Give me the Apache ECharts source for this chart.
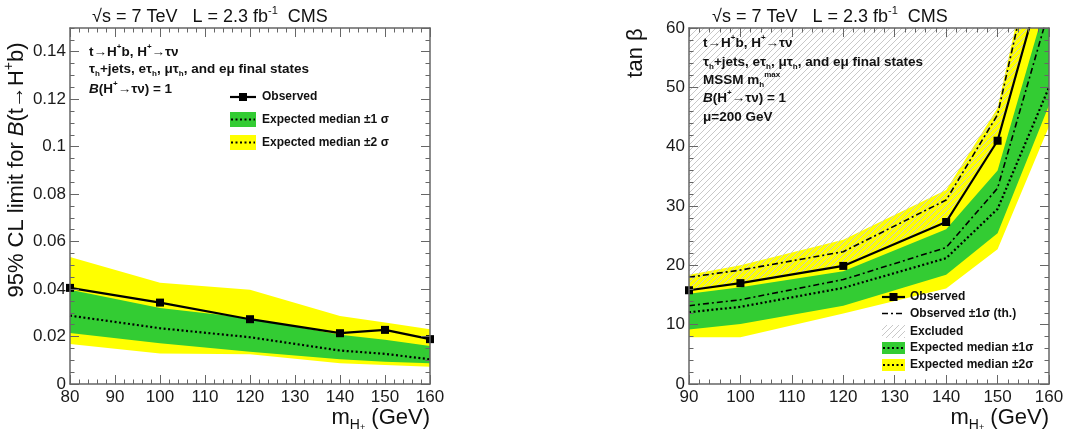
<!DOCTYPE html>
<html><head><meta charset="utf-8">
<script src="https://cdn.jsdelivr.net/npm/echarts@6/dist/echarts.min.js"></script>
<style>html,body{margin:0;padding:0;background:#fff}#c{width:1074px;height:438px}</style>
</head><body><div id="c"></div>
<script>
// ---------- Left panel data: 95% CL limit on B(t->H+b) ----------
const massL = [80, 100, 120, 140, 150, 160];
const obsL = [0.0405, 0.0343, 0.0273, 0.0214, 0.0228, 0.0189];
const expL = [0.0288, 0.0235, 0.0197, 0.0141, 0.0127, 0.0104];
const g1LoL = [0.0215, 0.0172, 0.0136, 0.0104, 0.0094, 0.0087];
const g1HiL = [0.0397, 0.0320, 0.0277, 0.0207, 0.0186, 0.0160];
const y2LoL = [0.0169, 0.0129, 0.0125, 0.0087, 0.0080, 0.0073];
const y2HiL = [0.0535, 0.0427, 0.0397, 0.0287, 0.0259, 0.0231];

// ---------- Right panel data: tan beta limit ----------
const massR = [90, 100, 120, 140, 150, 160];
const obsR = [15.8, 17.0, 19.9, 27.3, 41.0, 72];
const thUpR = [18.0, 19.2, 22.3, 31.0, 45.4, 84];
const thDnR = [13.2, 14.2, 17.6, 23.0, 33.0, 63];
const expR = [12.1, 13.0, 16.2, 21.2, 29.5, 50];
const g1LoR = [9.2, 10.1, 13.2, 18.4, 25.4, 47];
const g1HiR = [15.2, 16.3, 19.0, 26.1, 36.0, 66];
const y2LoR = [7.9, 7.9, 11.9, 16.1, 22.7, 43.4];
const y2HiR = [18.4, 20.0, 24.3, 32.7, 46.5, 86];
const exclTopR = [200, 200, 200, 200, 200, 200];

// tick settings
const xTicksL = {min: 80, max: 160, interval: 10};
const yTicksL = {min: 0, max: 0.15, interval: 0.02, minor: 0.005};
const xTicksR = {min: 90, max: 160, interval: 10};
const yTicksR = {min: 0, max: 60, interval: 10};

const FF = '"Liberation Sans", Arial, Helvetica, sans-serif';
const GREEN = '#33cc33', YELLOW = '#ffff00', AX = '#666';

// hatch pattern
const pc = document.createElement('canvas');
pc.width = 6; pc.height = 6;
(function(){
  const c = pc.getContext('2d');
  c.strokeStyle = '#c8c8c8'; c.lineWidth = 1.0;
  c.beginPath();
  c.moveTo(0, 6); c.lineTo(6, 0);
  c.moveTo(-1, 1); c.lineTo(1, -1);
  c.moveTo(5, 7); c.lineTo(7, 5);
  c.stroke();
})();
const HATCH = {image: pc, repeat: 'repeat'};

function pairs(xs, ys) { return xs.map((x, i) => [x, ys[i]]); }

// filled region between lo and hi, drawn through the axes' scales
function band(xs, lo, hi, fill, xi, yi, z) {
  return {type: 'custom', xAxisIndex: xi, yAxisIndex: yi, data: [[xs[0], lo[0]]], silent: true, z: z || 2,
    renderItem: function (params, api) {
      const pts = [];
      for (let i = 0; i < xs.length; i++) pts.push(api.coord([xs[i], hi[i]]));
      for (let i = xs.length - 1; i >= 0; i--) pts.push(api.coord([xs[i], lo[i]]));
      const cs = params.coordSys;
      return {type: 'polygon', shape: {points: pts}, style: {fill: fill, stroke: null},
        clipPath: {type: 'rect', shape: {x: cs.x, y: cs.y, width: cs.width, height: cs.height}}};
    }};
}
function line(xs, ys, xi, yi, style, marker) {
  return {type: 'line', xAxisIndex: xi, yAxisIndex: yi, data: pairs(xs, ys),
    symbol: marker ? 'rect' : 'none', symbolSize: 8, showAllSymbol: true,
    itemStyle: {color: '#000'}, lineStyle: Object.assign({color: '#000'}, style), silent: true, z: 4};
}

function xAx(grid, t, pos, labels) {
  return {type: 'value', gridIndex: grid, position: pos, min: t.min, max: t.max, interval: t.interval, z: 10,
    axisLine: {show: true, onZero: false, lineStyle: {color: AX, width: 1.5}},
    axisTick: {show: true, inside: true, length: 9, lineStyle: {color: AX, width: 1}},
    minorTick: {show: true, splitNumber: 5, length: 4.5, lineStyle: {color: AX, width: 1}},
    splitLine: {show: false}, minorSplitLine: {show: false},
    axisLabel: {show: labels, fontFamily: FF, fontSize: 17, color: '#1a1a1a', margin: 5}};
}
function yAx(grid, t, pos, labels, minorSplit) {
  return {type: 'value', gridIndex: grid, position: pos, min: t.min, max: t.max, interval: t.interval, z: 10,
    axisLine: {show: true, onZero: false, lineStyle: {color: AX, width: 1.5}},
    axisTick: {show: true, inside: true, length: 9, lineStyle: {color: AX, width: 1}},
    minorTick: {show: !!minorSplit, splitNumber: minorSplit || 5, length: 4.5, lineStyle: {color: AX, width: 1}},
    splitLine: {show: false}, minorSplitLine: {show: false},
    axisLabel: {show: labels, fontFamily: FF, fontSize: 17, color: '#1a1a1a', margin: 4, showMaxLabel: t.max % t.interval === 0}};
}
function yMinor(grid, t, pos) {
  return {type: 'value', gridIndex: grid, position: pos, min: t.min, max: t.max, interval: t.minor, z: 10,
    axisLine: {show: false}, axisLabel: {show: false}, splitLine: {show: false},
    axisTick: {show: true, inside: true, length: 4.5, lineStyle: {color: AX, width: 1}}};
}

function rich(fs, fw) {
  const base = {fontFamily: FF, fontWeight: fw, fill: '#111'};
  return {
    sup: Object.assign({}, base, {fontSize: Math.round(fs * 0.62), verticalAlign: 'top', lineHeight: Math.round(fs * 0.75)}),
    sub: Object.assign({}, base, {fontSize: Math.round(fs * 0.62), verticalAlign: 'bottom', lineHeight: Math.round(fs * 0.75)}),
    hs: Object.assign({}, base, {fontSize: Math.round(fs * 0.42), verticalAlign: 'bottom', lineHeight: Math.round(fs * 1.05)}),
    i: Object.assign({}, base, {fontSize: fs, fontStyle: 'italic', lineHeight: Math.round(fs * 1.3)})
  };
}
function T(x, y, text, fs, fw, align, rot) {
  return {type: 'text', x, y, z: 100, silent: true, rotation: rot || 0, style: {
    text, fontFamily: FF, fontSize: fs, fontWeight: fw, fill: '#111', lineHeight: Math.round(fs * 1.3),
    align: align || 'left', verticalAlign: 'middle', rich: rich(fs, fw)}};
}
function L(x1, y1, x2, y2, w, dash) {
  return {type: 'line', z: 100, silent: true, shape: {x1, y1, x2, y2}, style: {stroke: '#000', lineWidth: w, lineDash: dash || null}};
}
function R(x, y, w, h, fill) {
  return {type: 'rect', z: 99, silent: true, shape: {x, y, width: w, height: h}, style: {fill}};
}
const DOT = [2, 2.5], DASHDOT = [6, 3, 2, 3];

const series = [
  band(massL, y2LoL, y2HiL, YELLOW, 0, 0, 1),
  band(massL, g1LoL, g1HiL, GREEN, 0, 0, 2),
  line(massL, expL, 0, 0, {width: 2.2, type: DOT}, false),
  line(massL, obsL, 0, 0, {width: 2.2}, true),
  band(massR, y2LoR, y2HiR, YELLOW, 2, 4, 1),
  band(massR, g1LoR, g1HiR, GREEN, 2, 4, 2),
  band(massR, obsR, exclTopR, HATCH, 2, 4, 3),
  line(massR, thUpR, 2, 4, {width: 1.6, type: DASHDOT}, false),
  line(massR, thDnR, 2, 4, {width: 1.6, type: DASHDOT}, false),
  line(massR, expR, 2, 4, {width: 2.2, type: DOT}, false),
  line(massR, obsR, 2, 4, {width: 2.2}, true)
];

const graphics = [
  // titles
  T(92, 17, '√s = 7 TeV   L = 2.3 fb{sup|-1}  CMS', 18, 'normal'),
  T(712, 17, '√s = 7 TeV   L = 2.3 fb{sup|-1}  CMS', 18, 'normal'),
  // axis titles
  T(17, 170, '95% CL limit for {i|B}(t→H{sup|+}b)', 22, 'normal', 'center', Math.PI / 2),
  T(636, 53, 'tan β', 22, 'normal', 'center', Math.PI / 2),
  T(430, 418, 'm{sub|H}{hs|+} (GeV)', 22, 'normal', 'right'),
  T(1049, 418, 'm{sub|H}{hs|+} (GeV)', 22, 'normal', 'right'),
  // left annotations
  T(89, 52, 't→H{sup|+}b, H{sup|+}→τν', 13.5, 'bold'),
  T(89, 69, 'τ{sub|h}+jets, eτ{sub|h}, μτ{sub|h}, and eμ final states', 13.5, 'bold'),
  T(89, 89, '{i|B}(H{sup|+}→τν) = 1', 13.5, 'bold'),
  // left legend
  L(230, 97, 256, 97, 2.2), R(239, 93, 8, 8, '#000'),
  T(262, 97, 'Observed', 12, 'bold'),
  R(230, 112, 26, 15, GREEN), L(231, 119.5, 255, 119.5, 2, DOT),
  T(262, 119.5, 'Expected median ±1 σ', 12, 'bold'),
  R(230, 135, 26, 15, YELLOW), L(231, 142.5, 255, 142.5, 2, DOT),
  T(262, 142.5, 'Expected median ±2 σ', 12, 'bold'),
  // right annotations
  T(703, 43, 't→H{sup|+}b, H{sup|+}→τν', 13.5, 'bold'),
  T(703, 62, 'τ{sub|h}+jets, eτ{sub|h}, μτ{sub|h}, and eμ final states', 13.5, 'bold'),
  T(703, 80, 'MSSM m{sub|h}{sup|max}', 13.5, 'bold'),
  T(703, 98, '{i|B}(H{sup|+}→τν) = 1', 13.5, 'bold'),
  T(703, 117, 'μ=200 GeV', 13.5, 'bold'),
  // right legend
  L(882, 297, 905, 297, 2.2), R(889.5, 293, 8, 8, '#000'),
  T(910, 297, 'Observed', 12, 'bold'),
  L(882, 313.5, 905, 313.5, 1.6, DASHDOT),
  T(910, 313.5, 'Observed ±1σ (th.)', 12, 'bold'),
  R(882, 325, 23, 13, HATCH),
  T(910, 331.5, 'Excluded', 12, 'bold'),
  R(882, 342, 23, 12, GREEN), L(883, 348, 904, 348, 2, DOT),
  T(910, 348, 'Expected median ±1σ', 12, 'bold'),
  R(882, 359, 23, 12, YELLOW), L(883, 365, 904, 365, 2, DOT),
  T(910, 365, 'Expected median ±2σ', 12, 'bold')
];

const chart = echarts.init(document.getElementById('c'), null, {renderer: 'canvas'});
chart.setOption({
  animation: false,
  backgroundColor: '#fff',
  grid: [
    {left: 70, top: 28, width: 360, height: 356},
    {left: 689, top: 28, width: 360, height: 356}
  ],
  xAxis: [
    xAx(0, xTicksL, 'bottom', true), xAx(0, xTicksL, 'top', false),
    xAx(1, xTicksR, 'bottom', true), xAx(1, xTicksR, 'top', false)
  ],
  yAxis: [
    yAx(0, yTicksL, 'left', true, 0), yAx(0, yTicksL, 'right', false, 0),
    yMinor(0, yTicksL, 'left'), yMinor(0, yTicksL, 'right'),
    yAx(1, yTicksR, 'left', true, 5), yAx(1, yTicksR, 'right', false, 5)
  ],
  series,
  graphic: {elements: graphics}
});
</script>
</body></html>
